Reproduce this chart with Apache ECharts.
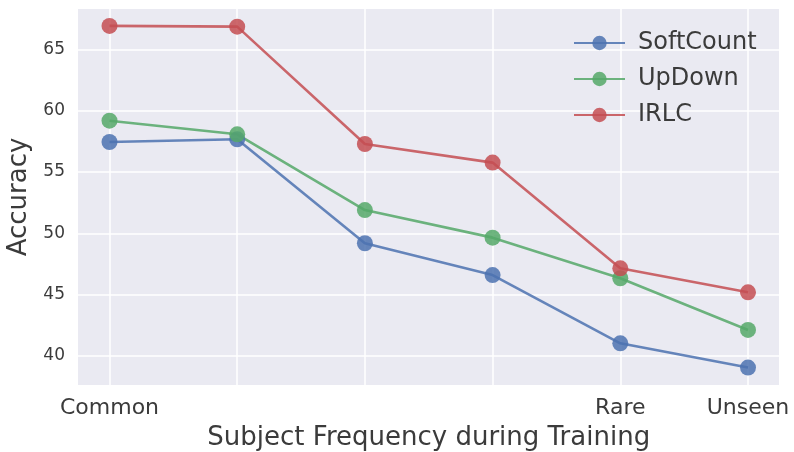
<!DOCTYPE html>
<html>
<head>
<meta charset="utf-8">
<script src="https://cdn.jsdelivr.net/npm/echarts@6/dist/echarts.min.js"></script>
<style>html,body{margin:0;padding:0;background:#fff}#c{width:794px;height:452px}</style>
</head>
<body>
<div id="c"></div>
<script>
const categories = ['Common', '', '', '', 'Rare', 'Unseen'];
const softCount = [57.45, 57.67, 49.19, 46.6, 41.03, 39.05];
const upDown = [59.19, 58.08, 51.9, 49.65, 46.34, 42.12];
const irlc = [66.92, 66.86, 57.29, 55.77, 47.15, 45.19];
const yTicks = [40, 45, 50, 55, 60, 65];

const yMin = 37.63, yMax = 68.3;
const font = 'DejaVu Sans';
const txt = '#3b3b3b';
const colors = ['#4C72B0', '#55A868', '#C44E52'];

function mkSeries(name, data, color) {
  return {
    name: name, type: 'line', data: data, xAxisIndex: 1, yAxisIndex: 1,
    symbol: 'circle', symbolSize: 16,
    lineStyle: { color: color, width: 2.6, opacity: 0.85 },
    itemStyle: { color: color, opacity: 0.85 },
    emphasis: { disabled: true },
    animation: false
  };
}

const chart = echarts.init(document.getElementById('c'), null, { renderer: 'canvas' });
chart.setOption({
  animation: false,
  textStyle: { fontFamily: font },
  grid: [
    { left: 78, top: 9, width: 701, height: 376, show: true, backgroundColor: '#EAEAF2', borderWidth: 0, containLabel: false, outerBoundsMode: 'none' },
    { left: 109.5, top: 9, width: 638.5, height: 376, containLabel: false, outerBoundsMode: 'none' }
  ],
  xAxis: [
    { gridIndex: 0, type: 'value', min: 0, max: 1, show: false },
    { gridIndex: 1, type: 'category', data: categories, boundaryGap: false,
      axisLine: { show: false }, axisTick: { show: false },
      axisLabel: { interval: 0, color: txt, fontSize: 22, fontFamily: font, margin: 12 },
      splitLine: { show: true, interval: 0, lineStyle: { color: '#ffffff', width: 1.5 } },
      name: 'Subject Frequency during Training', nameLocation: 'middle', nameGap: 40,
      nameTextStyle: { color: txt, fontSize: 26, fontFamily: font } }
  ],
  yAxis: [
    { gridIndex: 0, type: 'value', min: yMin, max: yMax,
      axisLine: { show: false },
      axisLabel: { color: txt, fontSize: 17, fontFamily: font, margin: 13,
        customValues: yTicks },
      splitLine: { show: true, lineStyle: { color: '#ffffff', width: 1.5 } },
      axisTick: { show: false, customValues: yTicks },
      name: 'Accuracy', nameLocation: 'middle', nameGap: 44, nameRotate: 90,
      nameTextStyle: { color: txt, fontSize: 26, fontFamily: font } },
    { gridIndex: 1, type: 'value', min: yMin, max: yMax, show: false, splitLine: { show: false } }
  ],
  legend: {
    orient: 'vertical', left: 568, top: 26, itemWidth: 51, itemHeight: 18, itemGap: 12,
    textStyle: { color: txt, fontSize: 24, fontFamily: font, padding: [0, 0, 0, 8] },
    data: ['SoftCount', 'UpDown', 'IRLC']
  },
  series: [
    mkSeries('SoftCount', softCount, colors[0]),
    mkSeries('UpDown', upDown, colors[1]),
    mkSeries('IRLC', irlc, colors[2])
  ]
});
</script>
</body>
</html>
